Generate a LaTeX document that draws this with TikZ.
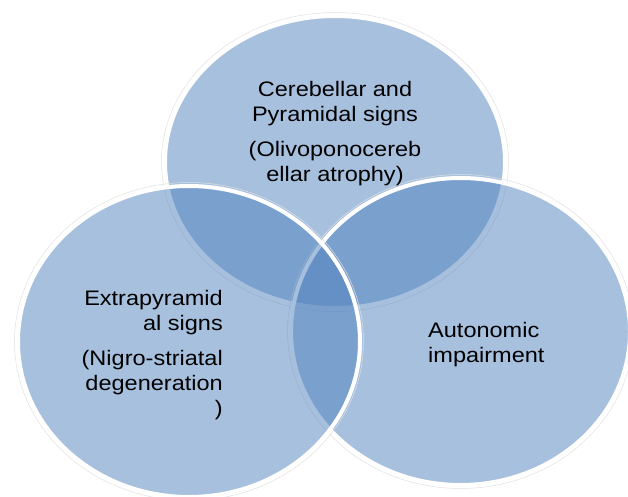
\documentclass[tikz,border=0pt]{standalone}
\usepackage{fontspec}
\setmainfont{Liberation Sans}
\usepackage{graphicx}
\definecolor{vblue}{HTML}{4F81BD}
\begin{document}
\begin{tikzpicture}[x=1pt,y=-1pt,
  vfill/.style={fill=vblue, fill opacity=0.5},
  vline/.style={draw=white, line width=4pt},
  vhalo/.style={draw=black!12, line width=0.5pt},
  vtext/.style={inner sep=0pt, font=\fontsize{21}{25}\selectfont, text=black}]
\useasboundingbox (0,0) rectangle (628,497);
% top circle
\draw[vhalo] (335,162) ellipse [x radius=173.5pt, y radius=149.5pt];
\fill[vfill] (335,162) ellipse [x radius=170pt, y radius=146pt];
\draw[vline] (335,162) ellipse [x radius=170pt, y radius=146pt];
% right circle
\draw[vhalo] (460.5,331.5) ellipse [x radius=173pt, y radius=157pt];
\fill[vfill] (460.5,331.5) ellipse [x radius=169.5pt, y radius=153.5pt];
\draw[vline] (460.5,331.5) ellipse [x radius=169.5pt, y radius=153.5pt];
% left circle
\draw[vhalo] (189,341.5) ellipse [x radius=174.5pt, y radius=159pt];
\fill[vfill] (189,341.5) ellipse [x radius=171pt, y radius=155.5pt];
\draw[vline] (189,341.5) ellipse [x radius=171pt, y radius=155.5pt];
% texts
\node[vtext, anchor=base] (toptext) at (335,97)
  {\scalebox{1.12}[1]{\begin{tabular}[t]{@{}c@{}}Cerebellar and\\ Pyramidal signs\\[10pt] (Olivoponocereb\\ ellar atrophy)\end{tabular}}};
\node[vtext, anchor=base east] (lefttext) at (223,305)
  {\scalebox{1.12}[1]{\begin{tabular}[t]{@{}r@{}}Extrapyramid\\ al signs\\[10pt] (Nigro-striatal\\ degeneration\\ )\end{tabular}}};
\node[vtext, anchor=base west] (righttext) at (428,337)
  {\scalebox{1.12}[1]{\begin{tabular}[t]{@{}l@{}}Autonomic\\ impairment\end{tabular}}};
\end{tikzpicture}
\end{document}
